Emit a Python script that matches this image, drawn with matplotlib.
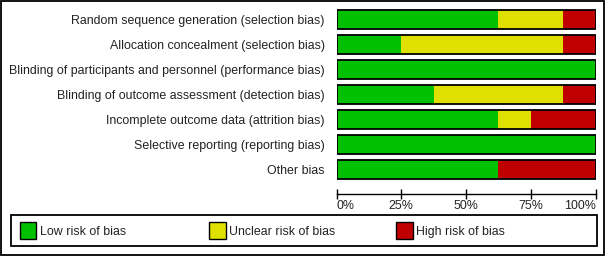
import matplotlib
matplotlib.use("Agg")
import matplotlib.pyplot as plt
from matplotlib.patches import Rectangle

plt.rcParams['font.family'] = ['Liberation Sans', 'DejaVu Sans']

# risk of bias domains (top to bottom)
domains = [
    "Random sequence generation (selection bias)",
    "Allocation concealment (selection bias)",
    "Blinding of participants and personnel (performance bias)",
    "Blinding of outcome assessment (detection bias)",
    "Incomplete outcome data (attrition bias)",
    "Selective reporting (reporting bias)",
    "Other bias",
]
# percentages of studies
low = [62.5, 25.0, 100.0, 37.5, 62.5, 100.0, 62.5]
unclear = [25.0, 62.5, 0.0, 50.0, 12.5, 0.0, 0.0]
high = [12.5, 12.5, 0.0, 12.5, 25.0, 0.0, 37.5]
tick_vals = [0, 25, 50, 75, 100]
tick_labels = ["0%", "25%", "50%", "75%", "100%"]
legend_labels = ["Low risk of bias", "Unclear risk of bias", "High risk of bias"]
colors = ["#00c000", "#e0e000", "#c00000"]

W, H = 606, 256
fig = plt.figure(figsize=(W / 100, H / 100), dpi=100)


def px(x0, y0, x1, y1):
    # pixel box (top-left origin) -> figure fraction rect
    return [x0 / W, 1 - y1 / H, (x1 - x0) / W, (y1 - y0) / H]


ax = fig.add_axes(px(336.5, 7, 595.5, 194))
rows = list(range(len(domains)))
left = [0] * len(rows)
for vals, c in zip([low, unclear, high], colors):
    ax.barh(rows, vals, left=left, height=0.76, color=c, edgecolor='none')
    left = [l + v for l, v in zip(left, vals)]
ax.barh(rows, left, height=0.76, fill=False, edgecolor='black', linewidth=1.3)

ax.set_xlim(0, 100)
ax.set_ylim(6.98, -0.5)
ax.set_yticks(rows)
ax.set_yticklabels(domains, fontsize=8.9, color='#222222')
ax.tick_params(axis='y', length=0, pad=8.5)
ax.set_xticks(tick_vals)
ax.set_xticklabels(tick_labels, fontsize=8.9, color='#222222')
ax.tick_params(axis='x', direction='inout', length=7, width=1, pad=0.5)
xl = ax.get_xticklabels()
xl[0].set_horizontalalignment('left')
xl[-1].set_horizontalalignment('right')
for s in ['top', 'left', 'right']:
    ax.spines[s].set_visible(False)
ax.spines['bottom'].set_linewidth(1)
ax.patch.set_visible(False)

# outer frame and legend box
fig.patches.append(Rectangle((1 / W, 1 / H), 603 / W, 254 / H, transform=fig.transFigure,
                             fill=False, edgecolor='black', linewidth=1.3))
fig.patches.append(Rectangle((10.7 / W, 1 - 246 / H), 586 / W, 31 / H, transform=fig.transFigure,
                             fill=False, edgecolor='black', linewidth=1.3))
for lab, c, x in zip(legend_labels, colors, [20, 209, 396]):
    fig.patches.append(Rectangle((x / W, 1 - 238.5 / H), 16.5 / W, 16.5 / H, transform=fig.transFigure,
                                 facecolor=c, edgecolor='black', linewidth=1))
    fig.text((x + 20) / W, 1 - 235 / H, lab, fontsize=8.9, color='#222222', va='baseline', ha='left')

fig.savefig("out.png", dpi=100)
